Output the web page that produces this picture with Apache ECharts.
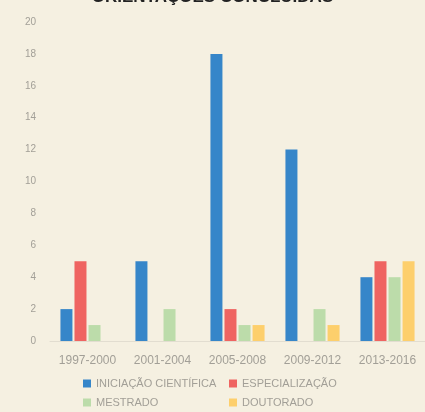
<!DOCTYPE html>
<html>
<head>
<meta charset="utf-8">
<script src="https://cdn.jsdelivr.net/npm/echarts@6/dist/echarts.min.js"></script>
<style>
  html, body { margin: 0; padding: 0; background: #f5f0e1; }
  #chart { width: 425px; height: 412px; }
</style>
</head>
<body>
<div id="chart"></div>
<script>
// Periods and counts per level of supervision
const periods = ['1997-2000', '2001-2004', '2005-2008', '2009-2012', '2013-2016'];
const iniciacao = [2, 5, 18, 12, 4];
const especializacao = [5, 0, 2, 0, 5];
const mestrado = [1, 2, 1, 2, 4];
const doutorado = [0, 0, 1, 1, 5];
const seriesNames = ['INICIAÇÃO CIENTÍFICA', 'ESPECIALIZAÇÃO', 'MESTRADO', 'DOUTORADO'];
const colors = ['#3686c9', '#ef6461', '#bcdcaa', '#fdcf6c'];

const chart = echarts.init(document.getElementById('chart'), null, { renderer: 'canvas' });

const textGray = '#a29f97';
const legendText = { color: textGray, fontSize: 11, fontFamily: 'Liberation Sans' };

function bar(name, data, color) {
  return {
    name: name,
    type: 'bar',
    data: data,
    barWidth: 12,
    barGap: '17%',
    itemStyle: { color: color }
  };
}

function legendColumn(names, left) {
  return {
    data: names,
    orient: 'vertical',
    left: left,
    top: 378,
    padding: 0,
    itemWidth: 8,
    itemHeight: 8,
    itemGap: 8,
    icon: 'rect',
    textStyle: legendText
  };
}

chart.setOption({
  backgroundColor: '#f5f0e1',
  animation: false,
  title: {
    text: 'ORIENTAÇÕES CONCLUÍDAS',
    left: 'center',
    top: -16,
    textStyle: { color: '#222', fontSize: 17, fontWeight: 'bold', fontFamily: 'Liberation Sans' }
  },
  grid: { left: 50, right: -3, top: 22, bottom: 71 },
  xAxis: {
    type: 'category',
    data: periods,
    axisTick: { show: false },
    axisLine: { show: true, lineStyle: { color: '#e2ddd0' } },
    axisLabel: { color: textGray, fontSize: 12, margin: 14, fontFamily: 'Liberation Sans' }
  },
  yAxis: {
    type: 'value',
    min: 0,
    max: 20,
    interval: 2,
    splitLine: { show: false },
    axisLine: { show: false },
    axisTick: { show: false },
    axisLabel: { color: textGray, fontSize: 10, margin: 14, fontFamily: 'Liberation Sans' }
  },
  legend: [
    legendColumn([seriesNames[0], seriesNames[2]], 83),
    legendColumn([seriesNames[1], seriesNames[3]], 229)
  ],
  series: [
    bar(seriesNames[0], iniciacao, colors[0]),
    bar(seriesNames[1], especializacao, colors[1]),
    bar(seriesNames[2], mestrado, colors[2]),
    bar(seriesNames[3], doutorado, colors[3])
  ]
});
</script>
</body>
</html>
